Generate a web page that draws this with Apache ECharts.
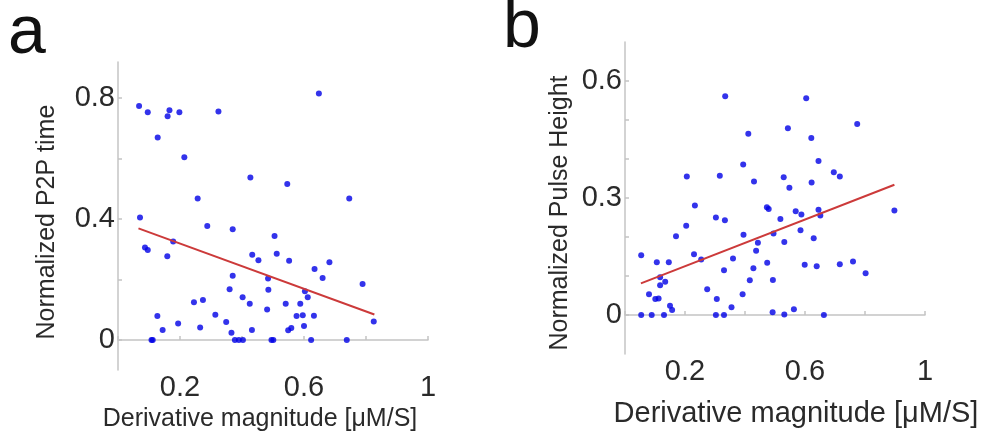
<!DOCTYPE html>
<html>
<head>
<meta charset="utf-8">
<script src="https://cdn.jsdelivr.net/npm/echarts@6/dist/echarts.min.js"></script>
<style>
html,body{margin:0;padding:0;background:#fff;}
#c{width:992px;height:437px;}
</style>
</head>
<body>
<div id="c"></div>
<script>
// Panel a: Normalized P2P time vs derivative magnitude
const aX = [0.068,0.096,0.166,0.160,0.198,0.324,0.128,0.214,0.427,0.546,0.257,0.648,0.746,0.071,0.288,0.370,0.505,0.087,0.096,0.178,0.159,0.433,0.453,0.512,0.552,0.370,0.360,0.484,0.485,0.402,0.425,0.245,0.274,0.481,0.541,0.127,0.314,0.576,0.194,0.144,0.265,0.349,0.366,0.432,0.549,0.559,0.108,0.112,0.377,0.390,0.403,0.495,0.501,0.682,0.634,0.660,0.789,0.603,0.612,0.588,0.596,0.632,0.825,0.600,0.623,0.738];
const aY = [0.774,0.754,0.760,0.740,0.754,0.756,0.670,0.605,0.538,0.516,0.468,0.816,0.468,0.405,0.377,0.366,0.344,0.306,0.298,0.326,0.277,0.282,0.264,0.285,0.262,0.212,0.168,0.203,0.166,0.141,0.120,0.125,0.132,0.101,0.120,0.079,0.083,0.079,0.054,0.033,0.041,0.059,0.024,0.033,0.032,0.039,0,0,0,0,0,0,0,0.257,0.235,0.205,0.185,0.161,0.141,0.120,0.082,0.080,0.061,0.046,0,0];
const aFitX = [0.066, 0.827];
const aFitY = [0.369, 0.084];

// Panel b: Normalized Pulse Height vs derivative magnitude
const bX = [0.334,0.411,0.543,0.394,0.206,0.316,0.430,0.529,0.548,0.233,0.473,0.479,0.604,0.774,0.621,0.645,0.696,0.716,0.622,0.569,0.588,0.645,0.651,0.898,0.518,0.585,0.495,0.531,0.629,0.599,0.639,0.716,0.760,0.802,0.493,0.492,0.531,0.563,0.663,0.303,0.333,0.204,0.170,0.395,0.443,0.437,0.054,0.230,0.254,0.106,0.146,0.360,0.474,0.330,0.428,0.117,0.134,0.117,0.416,0.274,0.080,0.101,0.112,0.392,0.306,0.150,0.157,0.355,0.054,0.089,0.130,0.303,0.330];
const bY = [0.561,0.465,0.479,0.386,0.355,0.357,0.342,0.353,0.326,0.281,0.276,0.272,0.556,0.490,0.454,0.395,0.366,0.355,0.340,0.266,0.258,0.270,0.255,0.268,0.246,0.217,0.209,0.187,0.197,0.129,0.125,0.130,0.137,0.107,0.090,0.007,0.001,0.015,0,0.250,0.243,0.229,0.202,0.206,0.185,0.165,0.153,0.156,0.142,0.135,0.135,0.145,0.134,0.115,0.120,0.097,0.085,0.076,0.089,0.066,0.053,0.041,0.042,0.053,0.041,0.024,0.013,0.020,0,0,0,0,0];
const bFitX = [0.053, 0.898];
const bFitY = [0.081, 0.334];

// Ticks and labels
const xTicks = [0, 0.2, 0.4, 0.6, 0.8, 1];
const xLabels = [0.2, 0.6, 1];
const aYTicks = [0, 0.2, 0.4, 0.6, 0.8];
const aYLabels = [0, 0.4, 0.8];
const bYTicks = [0, 0.1, 0.2, 0.3, 0.4, 0.5, 0.6];
const bYLabels = [0, 0.3, 0.6];

const xName = 'Derivative magnitude [μM/S]';
const aYName = 'Normalized P2P time';
const bYName = 'Normalized Pulse Height';

const FONT = 'Liberation Sans, Arial, sans-serif';
const TXT = '#2a2a2a';
const AX = '#c4c4c4';
const DOT = '#0000e6';
const FIT = '#cc3a3a';

function pairs(xs, ys){ return xs.map((x,i)=>[x, ys[i]]); }
function fmt(v){ return String(Math.round(v*10)/10); }

function xAxis(grid, gap, size, pad){
  return {
    type:'value', gridIndex:grid, min:0, max:1,
    name:xName, nameLocation:'middle', nameGap:gap,
    nameTextStyle:{fontFamily:FONT, fontSize:size, color:TXT, padding:pad},
    axisLine:{show:true, lineStyle:{color:AX, width:1.5}},
    axisTick:{show:true, inside:true, length:4, lineStyle:{color:AX, width:1.5}, customValues:xTicks},
    axisLabel:{fontFamily:FONT, fontSize:29, color:TXT, margin:3, customValues:xLabels, formatter:fmt},
    splitLine:{show:false}
  };
}
function yAxis(grid, min, max, ticks, labels, name, gap, pad){
  return {
    type:'value', gridIndex:grid, min:min, max:max,
    name:name, nameLocation:'middle', nameGap:gap,
    nameTextStyle:{fontFamily:FONT, fontSize:25, color:TXT, padding:pad},
    axisLine:{show:true, onZero:false, lineStyle:{color:AX, width:1.5}},
    axisTick:{show:true, inside:true, length:4, lineStyle:{color:AX, width:1.5}, customValues:ticks},
    axisLabel:{fontFamily:FONT, fontSize:29, color:TXT, margin:3, customValues:labels, formatter:fmt},
    splitLine:{show:false}
  };
}

const chart = echarts.init(document.getElementById('c'), null, {renderer:'canvas'});
chart.setOption({
  animation:false,
  backgroundColor:'#fff',
  grid:[
    {left:118, top:62, width:310, height:310},
    {left:625, top:42, width:300, height:312}
  ],
  xAxis:[xAxis(0, 19, 25, [0,26,0,0]), xAxis(1, 45, 29, [0,0,0,42])],
  yAxis:[
    yAxis(0, -0.1, 0.92, aYTicks, aYLabels, aYName, 58, [0,12,0,0]),
    yAxis(1, -0.1, 0.7, bYTicks, bYLabels, bYName, 52, [0,30,0,0])
  ],
  graphic:[
    {type:'text', left:8, top:0, style:{text:'a', font:'68px ' + FONT, fill:'#111'}},
    {type:'text', left:503, top:-6, style:{text:'b', font:'68px ' + FONT, fill:'#111'}}
  ],
  series:[
    {type:'scatter', xAxisIndex:0, yAxisIndex:0, data:pairs(aX,aY), symbolSize:6, itemStyle:{color:DOT}, z:3},
    {type:'line', xAxisIndex:0, yAxisIndex:0, data:pairs(aFitX,aFitY), showSymbol:false, lineStyle:{color:FIT, width:2}, z:4},
    {type:'scatter', xAxisIndex:1, yAxisIndex:1, data:pairs(bX,bY), symbolSize:6, itemStyle:{color:DOT}, z:3},
    {type:'line', xAxisIndex:1, yAxisIndex:1, data:pairs(bFitX,bFitY), showSymbol:false, lineStyle:{color:FIT, width:2}, z:4}
  ]
});
</script>
</body>
</html>
